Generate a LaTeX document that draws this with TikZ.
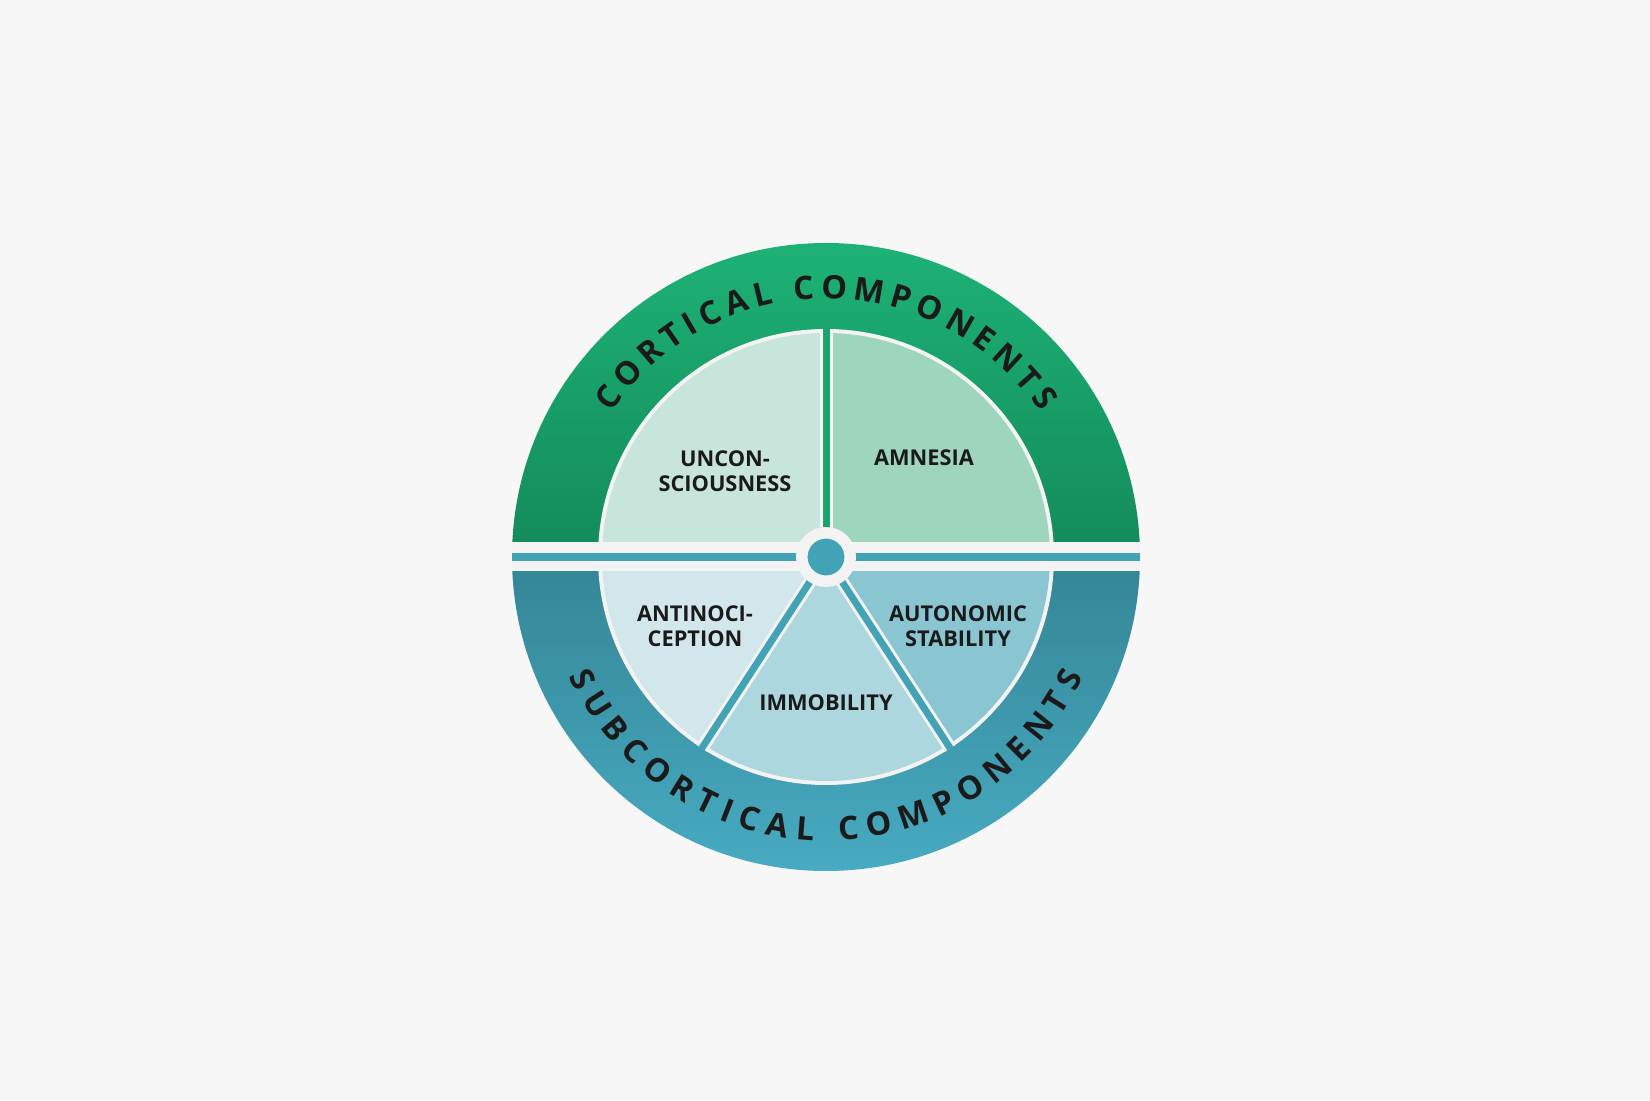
\documentclass[tikz,border=0pt]{standalone}
\usepackage{fontspec}
\setmainfont{Open Sans}
\newfontfamily\ringfont{Open Sans}
\usepackage{tikz}
\usetikzlibrary{decorations.text}
\definecolor{bgcol}{HTML}{F7F7F7}
\definecolor{sepcol}{HTML}{F3F3F3}
\definecolor{inkcol}{HTML}{1A1A1A}
\definecolor{cortA}{HTML}{1DB275}
\definecolor{cortB}{HTML}{138A5A}
\definecolor{subA}{HTML}{348595}
\definecolor{subB}{HTML}{47ABC1}
\definecolor{cortline}{HTML}{1AA56C}
\definecolor{subline}{HTML}{42A3B7}
\definecolor{unconcol}{HTML}{C7E5DA}
\definecolor{amncol}{HTML}{9DD6BD}
\definecolor{antcol}{HTML}{D1E7EB}
\definecolor{immcol}{HTML}{ADD7DF}
\definecolor{autcol}{HTML}{8AC6D1}

\begin{document}
\begin{tikzpicture}[
	label/.style={font=\bfseries\fontsize{12.4}{14.2}\selectfont, text=inkcol, align=center},
	ringtext/.style={decorate, decoration={text along path, text align=fit to path,
		text={|\ringfont\bfseries\fontsize{18.4}{18.4}\selectfont\color{inkcol}|#1}}}
]
	\useasboundingbox[fill=bgcol] (-16.52,-10.86) rectangle (16.48,11.14);
	\shade[top color=cortA, bottom color=cortB] (6.28,0) arc(0:180:6.28) -- cycle;
	\shade[top color=subA, bottom color=subB] (-6.28,0) arc(180:360:6.28) -- cycle;
	\fill[sepcol] (0,0) circle (4.56);
	\fill[amncol] (0,0) -- (0:4.48) arc(0:90:4.48) -- cycle;
	\fill[unconcol] (0,0) -- (90:4.48) arc(90:180:4.48) -- cycle;
	\fill[antcol] (0,0) -- (180:4.48) arc(180:237:4.48) -- cycle;
	\fill[immcol] (0,0) -- (237:4.48) arc(237:303:4.48) -- cycle;
	\fill[autcol] (0,0) -- (303:4.48) arc(303:360:4.48) -- cycle;
	\foreach \a/\c in {90/cortline, 237/subline, 303/subline}{
		\draw[line width=0.26cm, sepcol] (0,0) -- (\a:4.56);
		\draw[line width=0.14cm, \c] (0,0) -- (\a:4.58);
	}
	\fill[sepcol] (-6.27,-0.29) rectangle (6.27,0.29);
	\fill[subline] (-6.28,-0.08) rectangle (6.28,0.08);
	\node[circle, fill=subline, draw=sepcol, line width=0.23cm, minimum size=0.97cm] (hub) at (0,0) {};

	\path[ringtext={CORTICAL COMPONENTS}] (146:5.17) arc(146:34:5.17);
	\path[ringtext={SUBCORTICAL COMPONENTS}] (205:5.67) arc(205:335:5.67);

	\node[label] (uncon) at (-2.02,1.72) {UNCON-\\SCIOUSNESS};
	\node[label] (amnesia) at (1.96,1.98) {AMNESIA};
	\node[label] (antinoci) at (-2.62,-1.38) {ANTINOCI-\\CEPTION};
	\node[label] (autonomic) at (2.64,-1.38) {AUTONOMIC\\STABILITY};
	\node[label] (immobility) at (0,-2.92) {IMMOBILITY};
\end{tikzpicture}
\end{document}
